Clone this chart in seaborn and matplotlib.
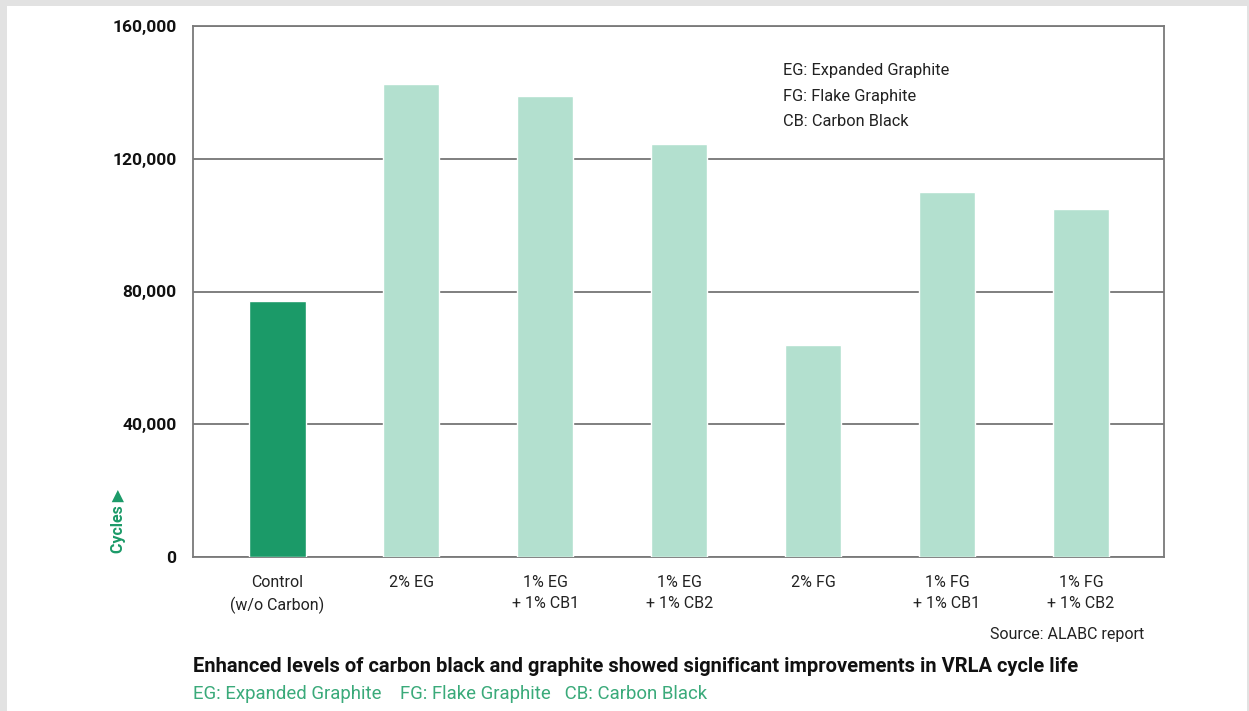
import seaborn as sns
import matplotlib.pyplot as plt
import matplotlib.patches as mpatches
import matplotlib.ticker as mticker
import pandas as pd


# bar data
categories = ["Control\n(w/o Carbon)", "2% EG", "1% EG\n+ 1% CB1", "1% EG\n+ 1% CB2",
              "2% FG", "1% FG\n+ 1% CB1", "1% FG\n+ 1% CB2"]
cycles = [77000, 142500, 139000, 124500, 64000, 110000, 105000]
bar_colors = ["#1b9a68", "#b3e0cf", "#b3e0cf", "#b3e0cf", "#b3e0cf", "#b3e0cf", "#b3e0cf"]
y_ticks = [0, 40000, 80000, 120000, 160000]

legend_lines = ["EG: Expanded Graphite", "FG: Flake Graphite", "CB: Carbon Black"]
title = "Enhanced levels of carbon black and graphite showed significant improvements in VRLA cycle life"
subtitle = "EG: Expanded Graphite    FG: Flake Graphite   CB: Carbon Black"
source = "Source: ALABC report"

df = pd.DataFrame({"category": categories, "cycles": cycles})

sns.set_style("white")
plt.rcParams['font.family'] = ['Roboto', 'DejaVu Sans']

fig = plt.figure(figsize=(12.49, 7.11), dpi=100)
fig.patch.set_facecolor("#e2e2e2")
# white card on gray frame
fig.patches.append(mpatches.Rectangle((7 / 1249, 0), 1240 / 1249, 705 / 711,
                                      transform=fig.transFigure, facecolor="white",
                                      edgecolor="none", zorder=-10))

ax = fig.add_axes([193 / 1249, 1 - 557 / 711, 971 / 1249, 531 / 711])
sns.barplot(data=df, x="category", y="cycles", hue="category", palette=bar_colors,
            legend=False, width=0.42, saturation=1, ax=ax, zorder=3)

ax.set_xlim(-0.63, 6.62)
ax.set_ylim(0, 160000)
ax.set_yticks(y_ticks)
ax.yaxis.set_major_formatter(mticker.FuncFormatter(lambda v, p: f"{int(v):,}"))
ax.grid(axis="y", color="#6a6a6a", linewidth=1.2, zorder=1)
ax.set_axisbelow(True)
for s in ax.spines.values():
    s.set_color("#7a7a7a")
    s.set_linewidth(1.3)

ax.tick_params(axis="y", length=0, pad=12, labelsize=12.5, labelcolor="#111111")
for t in ax.get_yticklabels():
    t.set_fontweight("bold")
ax.tick_params(axis="x", length=0, pad=13, labelsize=11.5, labelcolor="#222222")
for t in ax.get_xticklabels():
    t.set_linespacing(1.5)
ax.set_xlabel("")
ax.set_ylabel("")

fig.text(118 / 1249, 1 - 521 / 711, "Cycles \u25B6", rotation=90, color="#1b9a68",
         fontsize=11.5, fontweight="bold", ha="center", va="center")

for i, line in enumerate(legend_lines):
    fig.text(783 / 1249, 1 - (71 + 25 * i) / 711, line, fontsize=11.8,
             color="#222222", ha="left", va="center")

fig.text(1144 / 1249, 1 - 634 / 711, source, fontsize=11.5, color="#222222",
         ha="right", va="center")
fig.text(193 / 1249, 1 - 667 / 711, title, fontsize=14.5, fontweight="bold",
         color="#111111", ha="left", va="center")
fig.text(193 / 1249, 1 - 694 / 711, subtitle, fontsize=13.4, color="#3aaa7a",
         ha="left", va="center")

fig.savefig("out.png", dpi=100, facecolor=fig.get_facecolor())
